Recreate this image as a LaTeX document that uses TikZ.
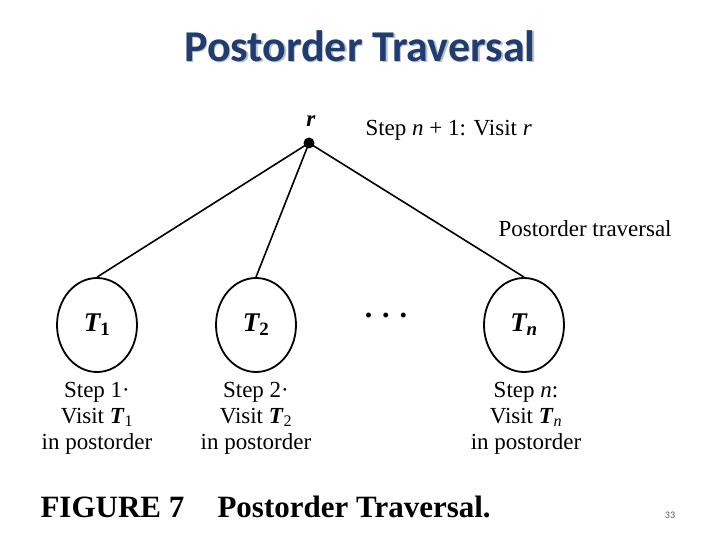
\documentclass[tikz,border=0pt]{standalone}
\usepackage{fontspec}
\usetikzlibrary{shapes.geometric}
\setmainfont{Liberation Serif}
\newfontfamily\titlefont{Carlito}
\definecolor{titleblue}{HTML}{1F3C73}
\begin{document}
\begin{tikzpicture}[x=1pt,y=-1pt,
  tree/.style={draw,ellipse,minimum width=80pt,minimum height=94pt,line width=1.8pt},
  lbl/.style={font=\fontsize{23}{26}\selectfont,align=center},
  tlbl/.style={font=\fontsize{27}{30}\selectfont\bfseries\itshape},
  edge/.style={line width=1.6pt}]
\useasboundingbox (0,0) rectangle (720,540);
\node[font=\titlefont\bfseries\fontsize{44}{48}\selectfont,text=gray!50] at (361.5,47.5) {Postorder Traversal};
\node[font=\titlefont\bfseries\fontsize{44}{48}\selectfont,text=titleblue] (title) at (360,46) {Postorder Traversal};
\fill (309,143) circle (5.5pt) coordinate (r);
\node[lbl] (rl) at (311,121) {\textbf{\textit{r}}};
\node[lbl,anchor=west] (sn) at (362,130) {Step \textit{n} + 1: Visit \textit{r}};
\node[tree] (t1) at (97,325) {};
\node[tree] (t2) at (256,325) {};
\node[tree] (tn) at (524,325) {};
\node[tlbl] at (t1) {T\textsubscript{\normalfont\bfseries 1}};
\node[tlbl] at (t2) {T\textsubscript{\normalfont\bfseries 2}};
\node[tlbl] at (tn) {T\textsubscript{n}};
\node[lbl,font=\bfseries\fontsize{30}{26}\selectfont] (dots) at (386,315) {.\,\,.\,\,.};
\draw[edge] (r) -- (t1.north);
\draw[edge] (r) -- (t2.north);
\draw[edge] (r) -- (tn.north);
\node[lbl,anchor=west] (pt) at (495,229) {Postorder traversal};
\node[lbl] (s1) at (97,418) {Step 1·\\Visit \textbf{\textit{T}}\textsubscript{1}\\in postorder};
\node[lbl] (s2) at (256,418) {Step 2·\\Visit \textbf{\textit{T}}\textsubscript{2}\\in postorder};
\node[lbl] (s3) at (526,418) {Step \textit{n}:\\Visit \textbf{\textit{T}}\textsubscript{\textit{n}}\\in postorder};
\node[anchor=west,font=\bfseries\fontsize{31}{30}\selectfont] (f7) at (37,507) {FIGURE 7};
\node[anchor=west,font=\bfseries\fontsize{31}{30}\selectfont] (cap) at (214,507) {Postorder Traversal.};
\node[font=\titlefont\fontsize{10}{12}\selectfont,text=gray!70!black] (pg) at (670,515) {33};
\end{tikzpicture}
\end{document}
